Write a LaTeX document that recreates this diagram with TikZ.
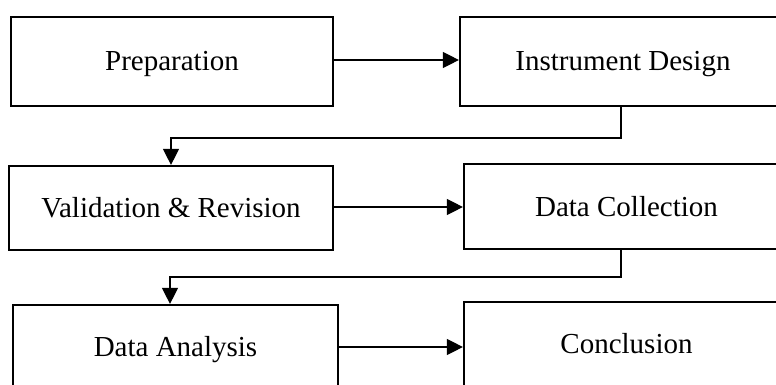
\documentclass[tikz,border=0pt]{standalone}
\usepackage{fontspec}
\setmainfont{Liberation Serif}
\usetikzlibrary{arrows.meta,calc}
\tikzset{
  stage/.style={draw=black, line width=2.2pt, fill=white, inner sep=0pt,
    text height=22pt, text depth=3pt,
    font=\fontsize{29}{34}\selectfont},
  conn/.style={line width=1.3pt, draw=black},
  tip/.style={-{Triangle[length=16pt,width=16pt]}},
}
\begin{document}
\begin{tikzpicture}[x=1pt,y=-1pt]
  \useasboundingbox (0,0) rectangle (776,385);
  \clip (0,0) rectangle (776,385);
  % stages, row by row
  \node[stage, minimum width=322pt, minimum height=89pt] (prep) at (172,61.5) {Preparation};
  \node[stage, minimum width=326pt, minimum height=89pt] (instr) at (623,61.5) {Instrument Design};
  \node[stage, minimum width=324pt, minimum height=84pt] (val) at (171,208) {Validation \& Revision};
  \node[stage, minimum width=325pt, minimum height=85pt] (coll) at (626.5,206.5) {Data Collection};
  \node[stage, minimum width=325pt, minimum height=84pt] (anal) at (175.5,347) {Data Analysis};
  \node[stage, minimum width=325pt, minimum height=84pt] (concl) at (626.5,344) {Conclusion};
  % horizontal steps
  \draw[conn,tip] ([yshift=1.5pt]prep.east) -- ([yshift=1.5pt]prep.east -| instr.west);
  \draw[conn,tip] ([yshift=1pt]val.east) -- ([yshift=1pt]val.east -| coll.west);
  \draw[conn,tip] (anal.east) -- (anal.east -| concl.west);
  % elbow steps down to the next row
  \draw[conn,tip] ([xshift=-2pt]instr.south) -- ++(0,31) -| (val.north);
  \draw[conn,tip] ([xshift=-5.5pt]coll.south) -- ++(0,27) -| ([xshift=-5.5pt]anal.north);
\end{tikzpicture}
\end{document}
